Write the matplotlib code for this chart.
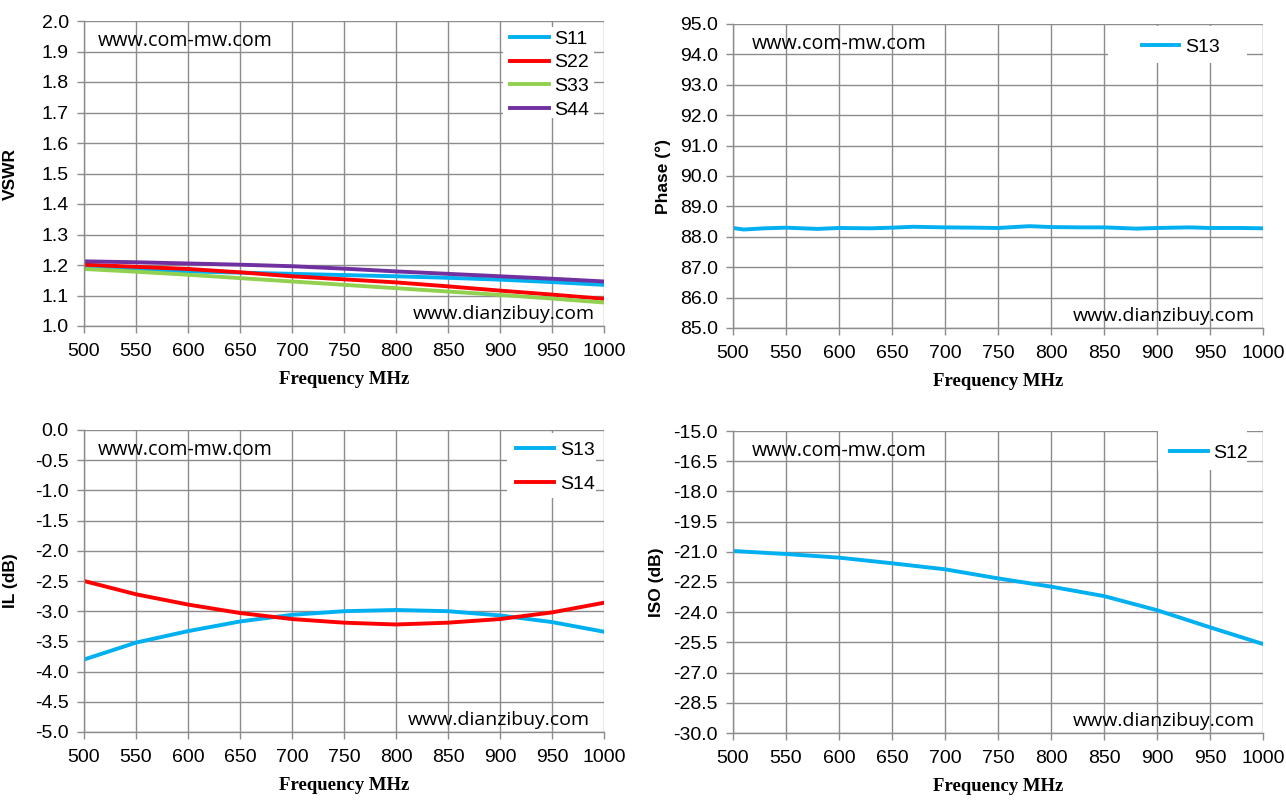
import matplotlib
matplotlib.use("Agg")
import matplotlib.pyplot as plt
from matplotlib.patches import Rectangle
from matplotlib.ticker import FormatStrFormatter, MultipleLocator

# ---------------- data ----------------
freq = [500, 550, 600, 650, 700, 750, 800, 850, 900, 950, 1000]

vswr_s11 = [1.196, 1.187, 1.179, 1.175, 1.171, 1.167, 1.163, 1.158, 1.152, 1.144, 1.135]
vswr_s22 = [1.201, 1.194, 1.187, 1.176, 1.163, 1.153, 1.143, 1.130, 1.116, 1.103, 1.089]
vswr_s33 = [1.187, 1.178, 1.168, 1.157, 1.146, 1.135, 1.124, 1.113, 1.102, 1.090, 1.077]
vswr_s44 = [1.212, 1.209, 1.205, 1.201, 1.196, 1.188, 1.179, 1.171, 1.163, 1.155, 1.146]

phase_freq = [500, 510, 530, 550, 580, 600, 630, 650, 670, 700, 730, 750, 780, 800,
              830, 850, 880, 900, 930, 950, 980, 1000]
phase_s13 = [88.29, 88.24, 88.28, 88.30, 88.26, 88.29, 88.28, 88.30, 88.33, 88.31, 88.30,
             88.29, 88.35, 88.32, 88.31, 88.31, 88.27, 88.29, 88.31, 88.29, 88.29, 88.28]

il_s13 = [-3.80, -3.52, -3.33, -3.17, -3.06, -3.00, -2.98, -3.00, -3.07, -3.18, -3.34]
il_s14 = [-2.50, -2.72, -2.89, -3.03, -3.13, -3.19, -3.22, -3.19, -3.13, -3.02, -2.86]

iso_s12 = [-20.96, -21.11, -21.29, -21.57, -21.87, -22.32, -22.73, -23.20, -23.90, -24.75, -25.58]

xticks = [500, 550, 600, 650, 700, 750, 800, 850, 900, 950, 1000]

# ---------------- style ----------------
C_CYAN = "#00B0F0"
C_RED = "#FF0000"
C_GREEN = "#92D050"
C_PURPLE = "#7030A0"
GRID = "#8C8C8C"
TICKFONT = ["Liberation Sans Narrow", "Liberation Sans", "DejaVu Sans"]
WMFONT = ["Open Sans", "DejaVu Sans"]
LEGSIZE = 14
FS_PX = LEGSIZE * 100 / 72.0

fig = plt.figure(figsize=(12.86, 8.02), dpi=100)
fig.patch.set_facecolor("white")

W, H = 1286.0, 802.0


def make_axes(l, t, r, b):
    ax = fig.add_axes([l / W, 1 - b / H, (r - l) / W, (b - t) / H])
    ax._px = (l, t, r, b)
    return ax


def to_ax(ax, px, py):
    l, t, r, b = ax._px
    return (px - l) / (r - l), (b - py) / (b - t)


def style(ax, ylim, ystep, ylabel, ylab_x, wm1_x, wm2_x):
    ax.set_xlim(500, 1000)
    ax.set_ylim(*ylim)
    ax.set_xticks(xticks)
    ax.yaxis.set_major_locator(MultipleLocator(ystep))
    ax.yaxis.set_major_formatter(FormatStrFormatter("%.1f"))
    ax.grid(True, color=GRID, linewidth=1.0)
    ax.set_axisbelow(True)
    for s in ["top", "right"]:
        ax.spines[s].set_visible(False)
    for s in ["left", "bottom"]:
        ax.spines[s].set_color(GRID)
        ax.spines[s].set_linewidth(1.0)
    ax.tick_params(axis="both", direction="out", length=5, width=1.0, color=GRID,
                   labelsize=14)
    ax.tick_params(axis="x", pad=7)
    ax.tick_params(axis="y", pad=6)
    for lab in ax.get_xticklabels() + ax.get_yticklabels():
        lab.set_family(TICKFONT)
    xl = ax.set_xlabel("Frequency MHz", family=["Liberation Serif", "DejaVu Serif"],
                       fontweight="bold", fontsize=13.5, labelpad=8)
    xl.set_fontstretch("expanded")
    ax.set_ylabel(ylabel, family=["Liberation Sans", "DejaVu Sans"],
                  fontweight="bold", fontsize=12.5)
    ax.yaxis.set_label_coords(ylab_x, 0.5)
    ax.text(wm1_x, 0.935, "www.com-mw.com", transform=ax.transAxes, ha="left",
            va="center", fontsize=14.2, family=WMFONT)
    ax.text(wm2_x, 0.04, "www.dianzibuy.com", transform=ax.transAxes, ha="right",
            va="center", fontsize=14, family=WMFONT)


def legend(ax, box, handle_x0, handle_x1, text_x, row1_y, row_gap=23.0):
    # white background box (pixel coordinates of the figure)
    bx0, by0, bx1, by1 = box
    ax0, ay1 = to_ax(ax, bx0, by0)
    ax1_, ay0 = to_ax(ax, bx1, by1)
    ax.add_patch(Rectangle((ax0, ay0), ax1_ - ax0, ay1 - ay0, transform=ax.transAxes,
                           facecolor="white", edgecolor="none", zorder=1.5,
                           clip_on=False))
    row_h = 17.0
    ancx, ancy = to_ax(ax, handle_x0, row1_y - row_h / 2.0)
    leg = ax.legend(loc="upper left", bbox_to_anchor=(ancx, ancy), frameon=False,
                    borderpad=0.0, borderaxespad=0.0,
                    handlelength=(handle_x1 - handle_x0) / FS_PX,
                    handletextpad=(text_x - handle_x1) / FS_PX,
                    labelspacing=(row_gap - row_h) / FS_PX,
                    prop={"family": TICKFONT, "size": LEGSIZE})
    leg.set_zorder(5)
    return leg


LW = 2.8

# top-left: VSWR
ax1 = make_axes(84, 21, 604, 326)
ax1.plot(freq, vswr_s11, color=C_CYAN, lw=LW, label="S11")
ax1.plot(freq, vswr_s22, color=C_RED, lw=LW, label="S22")
ax1.plot(freq, vswr_s33, color=C_GREEN, lw=LW, label="S33")
ax1.plot(freq, vswr_s44, color=C_PURPLE, lw=LW, label="S44")
style(ax1, (1.0, 2.0), 0.1, "VSWR", -0.127, 0.027, 0.982)
legend(ax1, (503, 27, 594, 118), 510, 549, 554, 38.5, 23.1)

# top-right: Phase
ax2 = make_axes(733, 24, 1263, 328)
ax2.plot(phase_freq, phase_s13, color=C_CYAN, lw=LW, label="S13")
style(ax2, (85.0, 95.0), 1.0, "Phase (°)", -0.117, 0.036, 0.985)
legend(ax2, (1108, 26, 1247, 63), 1142, 1179, 1185, 47)

# bottom-left: IL
ax3 = make_axes(84, 430, 604, 732)
ax3.plot(freq, il_s13, color=C_CYAN, lw=LW, label="S13")
ax3.plot(freq, il_s14, color=C_RED, lw=LW, label="S14")
style(ax3, (-5.0, 0.0), 0.5, "IL (dB)", -0.127, 0.027, 0.973)
legend(ax3, (507, 433, 596, 498), 516, 554, 560, 450, 33)

# bottom-right: ISO
ax4 = make_axes(733, 431, 1263, 733)
ax4.plot(freq, iso_s12, color=C_CYAN, lw=LW, label="S12")
style(ax4, (-30.0, -15.0), 1.5, "ISO (dB)", -0.130, 0.036, 0.985)
legend(ax4, (1158, 431, 1247, 470), 1170, 1208, 1213, 453)

fig.savefig("out.png", dpi=100, facecolor="white")
